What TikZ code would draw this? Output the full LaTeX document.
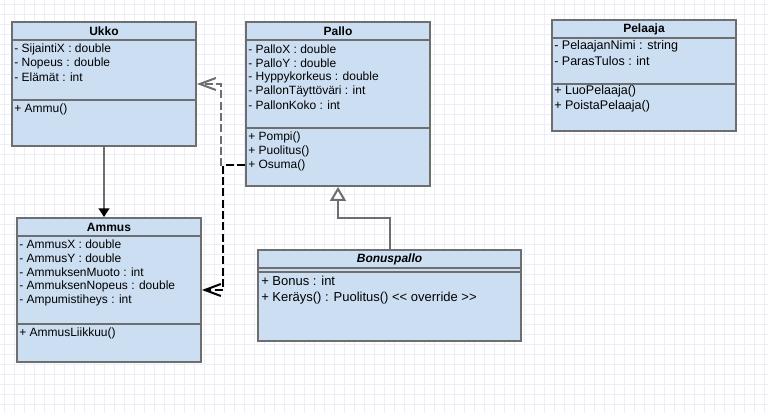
\documentclass[tikz,border=0pt]{standalone}
\usepackage{fontspec}
\setmainfont{Liberation Sans}
\usetikzlibrary{arrows.meta,fit}
\definecolor{tausta}{HTML}{CCDFF2}
\definecolor{reuna}{HTML}{6E6E6E}
\definecolor{ruutu}{HTML}{EDEDFA}
\tikzset{
	luokka/.style={draw=reuna,fill=tausta,line width=1.5pt,inner sep=0pt},
	viiva/.style={draw=reuna,line width=1.5pt},
	nimi/.style={font=\bfseries\fontsize{9}{11}\selectfont,inner sep=0pt},
	jasen/.style={anchor=west,inner sep=0pt,font=\fontsize{9}{11}\selectfont},
	riippuvuus/.style={line width=1.5pt,dash pattern=on 6pt off 2.5pt,-{Straight Barb[length=12pt,width=9pt]}},
}
\begin{document}
\begin{tikzpicture}[x=0.75pt,y=-0.75pt]
	\useasboundingbox[fill=white] (0,0) rectangle (768,413);
	\foreach \gx in {4,14,...,764}{
	\draw[ruutu,line width=0.75pt] (\gx,0) -- (\gx,413);
	}
	\foreach \gy in {5,15,...,405}{
	\draw[ruutu,line width=0.75pt] (0,\gy) -- (768,\gy);
	}
	% Ukko
	\node[luokka,fit={(12,22)(196,146)}] (ukko) {};
	\draw[viiva] (12,40) -- (196,40) (12,100) -- (196,100);
	\node[nimi] (ukko-nimi) at (104,31) {Ukko};
	\foreach \t [count=\i] in {- SijaintiX : double,- Nopeus : double,- Elämät : int}{
	\node[jasen] (ukko-a\i) at (14,35+14*\i) {\t};
	}
	\node[jasen] (ukko-m1) at (14,109) {+ Ammu()};
	% Pallo
	\node[luokka,fit={(246,22)(430,186)}] (pallo) {};
	\draw[viiva] (246,40) -- (430,40) (246,128) -- (430,128);
	\node[nimi] (pallo-nimi) at (338,31) {Pallo};
	\foreach \t [count=\i] in {- PalloX : double,- PalloY : double,- Hyppykorkeus : double,- PallonTäyttöväri : int,- PallonKoko : int}{
	\node[jasen] (pallo-a\i) at (248,35+14*\i) {\t};
	}
	\foreach \t [count=\i] in {+ Pompi(),+ Puolitus(),+ Osuma()}{
	\node[jasen] (pallo-m\i) at (248,123+14*\i) {\t};
	}
	% Ammus
	\node[luokka,fit={(17,218)(201,362)}] (ammus) {};
	\draw[viiva] (17,236) -- (201,236) (17,324) -- (201,324);
	\node[nimi] (ammus-nimi) at (109,227) {Ammus};
	\foreach \t [count=\i] in {- AmmusX : double,- AmmusY : double,- AmmuksenMuoto : int,- AmmuksenNopeus : double,- Ampumistiheys : int}{
	\node[jasen] (ammus-a\i) at (19,230.5+14*\i) {\t};
	}
	\node[jasen] (ammus-m1) at (19,333) {+ AmmusLiikkuu()};
	% Pelaaja
	\node[luokka,fit={(552,20)(736,131)}] (pelaaja) {};
	\draw[viiva] (552,38) -- (736,38) (552,84) -- (736,84);
	\node[nimi] (pelaaja-nimi) at (644,29) {Pelaaja};
	\foreach \t [count=\i] in {- PelaajanNimi : string,- ParasTulos : int}{
	\node[jasen,font=\fontsize{9.4}{11}\selectfont] (pelaaja-a\i) at (554,30.7+15.3*\i) {\t};
	}
	\foreach \t [count=\i] in {+ LuoPelaaja(),+ PoistaPelaaja()}{
	\node[jasen,font=\fontsize{9.4}{11}\selectfont] (pelaaja-m\i) at (554,75.5+15.5*\i) {\t};
	}
	% Bonuspallo
	\node[luokka,fit={(258,250)(521,341)}] (bonus) {};
	\draw[viiva] (258,268) -- (521,268) (258,272) -- (521,272);
	\node[nimi,font=\bfseries\itshape\fontsize{9}{11}\selectfont] (bonus-nimi) at (389.5,259) {Bonuspallo};
	\foreach \t [count=\i] in {+ Bonus : int,+ Keräys() : Puolitus() <\kern0pt< override >\kern0pt>}{
	\node[jasen,font=\fontsize{9.75}{12}\selectfont] (bonus-m\i) at (261,264.3+16.7*\i) {\t};
	}
	% yhteydet
	\draw[reuna,line width=1.5pt,-{Triangle[length=6.5pt,width=8pt,color=black]}] (ukko.south) -- (ukko.south |- ammus.north);
	\coordinate (haara1) at (221,165);
	\coordinate (haara2) at (223,165);
	\draw[riippuvuus,reuna] (pallo.west |- pallo-m3) -- (haara1) |- (ukko.east);
	\draw[riippuvuus,black] (pallo.west |- pallo-m3) -- (haara2) |- (ammus.east);
	\coordinate (taite) at (390,218);
	\draw[reuna,line width=1.5pt,-{Triangle[open,length=10.5pt,width=12pt,fill=white]}] (bonus.north -| taite) -- (taite) -| (pallo.south);
\end{tikzpicture}
\end{document}
